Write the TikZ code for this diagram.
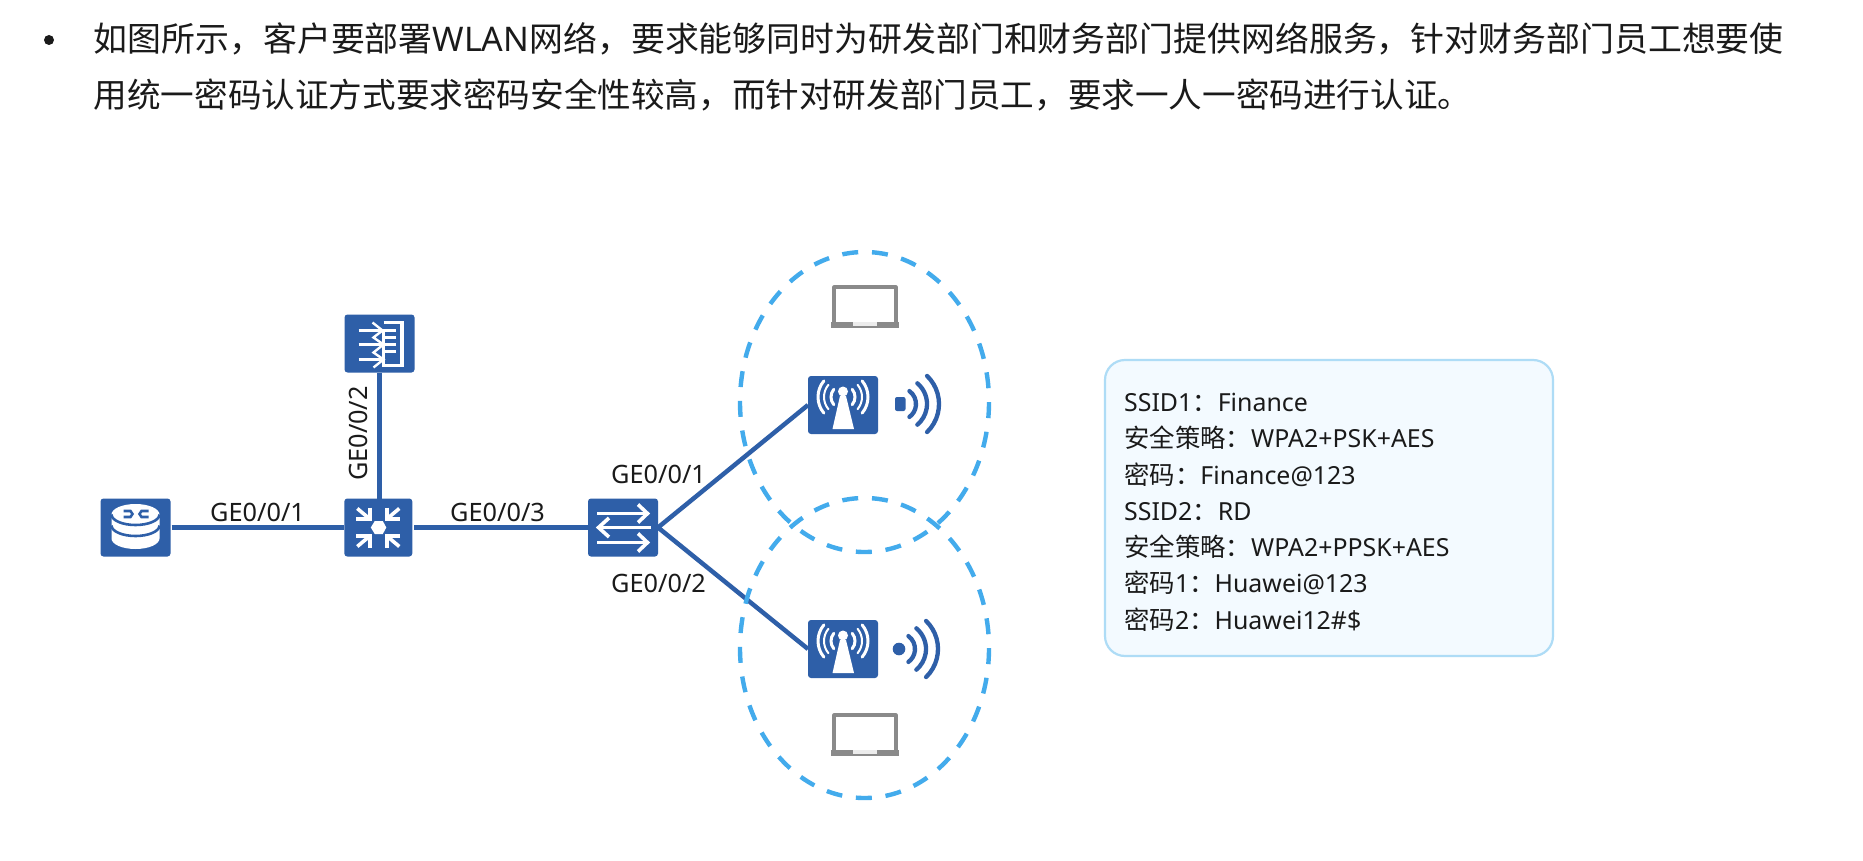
\documentclass[tikz,border=0pt]{standalone}
\usepackage{fontspec}
\setmainfont{Noto Sans}
\newfontfamily\cjk{Noto Sans CJK SC}
\usetikzlibrary{shapes.geometric}
\definecolor{hwblue}{HTML}{2E5FA8}
\definecolor{zoneblue}{HTML}{43ABEC}
\definecolor{boxline}{HTML}{AEDCF6}
\definecolor{boxfill}{HTML}{F3FAFF}
\definecolor{lapgray}{HTML}{8A8A8A}
\definecolor{ink}{HTML}{1A1A1A}
\newcommand\C[1]{{\cjk #1}}
\newcommand\I[1]{{\cjk\fontsize{25.4}{30}\selectfont #1}}
\newcommand\headfont{\fontsize{33.9}{40}\selectfont}
\newcommand\headfontb{\fontsize{33.6}{40}\selectfont}
\newcommand\labfont{\fontsize{25.3}{30}\selectfont}
\newcommand\infofont{\fontsize{24.9}{30}\selectfont}
\tikzset{
  icon/.style={fill=hwblue,rounded corners=3pt,minimum width=70pt,minimum height=58pt,inner sep=0pt,outer sep=0pt},
  link/.style={draw=hwblue,line width=4.8pt},
  glyph/.style={draw=white,line width=3.6pt},
  zone/.style={ellipse,draw=zoneblue,line width=4.4pt,dash pattern=on 16pt off 13.8pt,dash phase=16pt,minimum width=249pt,minimum height=300pt,inner sep=0pt,outer sep=0pt},
  portlabel/.style={anchor=base west,inner sep=0pt,text=ink,font=\labfont},
  rotlabel/.style={anchor=base,rotate=90,inner sep=0pt,text=ink,font=\labfont},
  headline/.style={anchor=base west,inner sep=0pt,text=ink,font=\headfont},
  headlineb/.style={anchor=base west,inner sep=0pt,text=ink,font=\headfontb},
  infoline/.style={anchor=base west,inner sep=0pt,text=ink,font=\infofont},
  infobox/.style={draw=boxline,fill=boxfill,line width=2.2pt,rounded corners=20pt,minimum width=448pt,minimum height=296pt,inner sep=0pt,outer sep=0pt},
  bulletdot/.style={circle,fill=ink,minimum size=10pt,inner sep=0pt},
}
\newcommand\glyphrouter{%
  \fill[white] (-24,-13) -- (-24,11) arc[start angle=180,end angle=0,x radius=24,y radius=10.5] -- (24,-13) arc[start angle=0,end angle=-180,x radius=24,y radius=10.5] -- cycle;
  \draw[hwblue,line width=2.6pt] (-24,-13) arc[start angle=180,end angle=0,x radius=24,y radius=10.5];
  \draw[hwblue,line width=2.6pt] (-24,-2) arc[start angle=180,end angle=0,x radius=24,y radius=10.5];
  \draw[hwblue,line width=2.6pt] (-12,-16.5) -- (-5,-16.5) -- (-3,-13.5) -- (-5,-10.5) -- (-12,-10.5);
  \draw[hwblue,line width=2.6pt] (13,-16.5) -- (6,-16.5) -- (4,-13.5) -- (6,-10.5) -- (13,-10.5);
}
\newcommand\glyphcore{%
  \fill[white] (-7.5,0) -- (-3.5,-6.5) -- (4.5,-6.5) -- (8,0) -- (4.5,6.5) -- (-3.5,6.5) -- cycle;
  \foreach \sx/\sy in {-1/-1,1/-1,-1/1,1/1}{
    \draw[glyph,miter limit=10] (8.5*\sx,20*\sy) -- (8.5*\sx,8.5*\sy) -- (22*\sx,8.5*\sy);
    \draw[glyph] (8.5*\sx,8.5*\sy) -- (21*\sx,19*\sy);
  }
}
\newcommand\glyphfw{%
  \draw[glyph] (4,-21) -- (22.5,-21) -- (22.5,22) -- (4,22) -- (4,-14);
  \draw[white,line width=2.8pt] (-21,-13) -- (16,-13) (-21,1) -- (16,1) (-21,16) -- (4,16) (4,-6) -- (16,-6) (4,8) -- (16,8);
  \draw[white,line width=2.4pt] (-7,-21) -- (3,-13) -- (-6,-6) -- (4,1) -- (-6,9) -- (4,16) -- (-6,24);
}
\newcommand\glyphswitch{%
  \draw[glyph] (-26,-14) -- (24,-14);
  \draw[glyph] (15,-23) -- (24.5,-14) -- (15,-5);
  \draw[glyph] (28,0) -- (-24,0);
  \draw[glyph] (-14,-9.5) -- (-24.5,0) -- (-14,9.5);
  \draw[glyph] (-26,15) -- (24,15);
  \draw[glyph] (15,6) -- (24.5,15) -- (15,24);
}
\newcommand\glyphap{%
  \fill[white] (0,-13.5) circle[radius=5];
  \fill[white] (-3,-9) -- (3,-9) -- (11,24) -- (-10.5,24) -- cycle;
  \foreach \rr/\lw in {12/3,19/2,25/3}{
    \draw[white,line width=\lw pt,line cap=round] (0,-8)++(-40:\rr) arc[start angle=-40,end angle=40,radius=\rr];
    \draw[white,line width=\lw pt,line cap=round] (0,-8)++(140:\rr) arc[start angle=140,end angle=220,radius=\rr];
  }
}
\newcommand\glyphwaves{%
  \draw[hwblue,line width=4.3pt,line cap=round] (0,0)++(-54:16) arc[start angle=-54,end angle=54,radius=16];
  \draw[hwblue,line width=4.3pt,line cap=round] (0,0)++(-50:27) arc[start angle=-50,end angle=50,radius=27];
  \draw[hwblue,line width=4.3pt,line cap=round] (0,0)++(-46:39) arc[start angle=-46,end angle=46,radius=39];
}
\newcommand\glyphlaptop{%
  \draw[lapgray,line width=3.2pt,line join=round] (-31,18) -- (-31,-19) -- (31,-19) -- (31,18);
  \fill[lapgray] (-34,15.5) rectangle (34,22);
  \fill[gray!15] (-12,15.5) rectangle (12,20);
}
\begin{document}
\begin{tikzpicture}[x=1pt,y=-1pt]
\useasboundingbox (0,0) rectangle (1863,861);
\fill[white] (0,0) rectangle (1863,861);
% heading
\node[bulletdot] (bul) at (49,40) {};
\node[headline] (h1) at (93.5,52) {\C{如图所示，客户要部署}WLAN\C{网络，要求能够同时为研发部门和财务部门提供网络服务，针对财务部门员工想要使}};
\node[headlineb] (h2) at (93.5,108) {\C{用统一密码认证方式要求密码安全性较高，而针对研发部门员工，要求一人一密码进行认证。}};
% devices
\node[icon] (router) at (135.5,527.5) {};
\node[icon,minimum width=68pt] (core) at (378.3,527.5) {};
\node[icon] (fw) at (379.5,343.5) {};
\node[icon] (sw) at (623,527.5) {};
\node[icon] (ap1) at (843,405) {};
\node[icon] (ap2) at (843,649) {};
\begin{scope}[shift={(router.center)}]\glyphrouter\end{scope}
\begin{scope}[shift={(core.center)}]\glyphcore\end{scope}
\begin{scope}[shift={(fw.center)}]\glyphfw\end{scope}
\begin{scope}[shift={(sw.center)}]\glyphswitch\end{scope}
\begin{scope}[shift={(ap1.center)}]\glyphap\end{scope}
\begin{scope}[shift={(ap2.center)}]\glyphap\end{scope}
% wave symbols
\coordinate (w1) at (900,404);
\coordinate (w2) at (899,649);
\fill[hwblue,rounded corners=2pt] (895,397) rectangle (905.5,411);
\fill[hwblue] (w2) circle[radius=6.3];
\begin{scope}[shift={(w1)}]\glyphwaves\end{scope}
\begin{scope}[shift={(w2)}]\glyphwaves\end{scope}
% laptops
\coordinate (lap1) at (865,306);
\coordinate (lap2) at (865,734);
\begin{scope}[shift={(lap1)}]\glyphlaptop\end{scope}
\begin{scope}[shift={(lap2)}]\glyphlaptop\end{scope}
% links
\draw[link,shorten <=1pt] (router.east) -- (core.west);
\draw[link,shorten <=2pt] (core.east) -- (sw.west);
\draw[link] (fw.south) -- (core.north -| fw.south);
\draw[link,line width=4.5pt] (sw.east) -- (ap1.west);
\draw[link,line width=4.5pt] (sw.east) -- (ap2.west);
% coverage
\node[zone] (zone1) at (864.5,402) {};
\node[zone] (zone2) at (864.5,648) {};
% labels
\node[portlabel] (l1) at (210,521) {GE0/0/1};
\node[portlabel] (l2) at (450,521) {GE0/0/3};
\node[rotlabel] (l3) at (367,433.5) {GE0/0/2};
\node[portlabel] (l4) at (611,483.5) {GE0/0/1};
\node[portlabel] (l5) at (611,592.5) {GE0/0/2};
% info
\node[infobox] (info) at (1329,508) {};
\node[infoline] (i1) at (1124,411.5) {SSID1\I{：}Finance};
\node[infoline] (i2) at (1124,447.7) {\I{安全策略：}WPA2+PSK+AES};
\node[infoline] (i3) at (1124,484) {\I{密码：}Finance@123};
\node[infoline] (i4) at (1124,520.2) {SSID2\I{：}RD};
\node[infoline] (i5) at (1124,556.5) {\I{安全策略：}WPA2+PPSK+AES};
\node[infoline] (i6) at (1124,592.7) {\I{密码}1\I{：}Huawei@123};
\node[infoline] (i7) at (1124,629) {\I{密码}2\I{：}Huawei12\#\$};
\end{tikzpicture}
\end{document}
